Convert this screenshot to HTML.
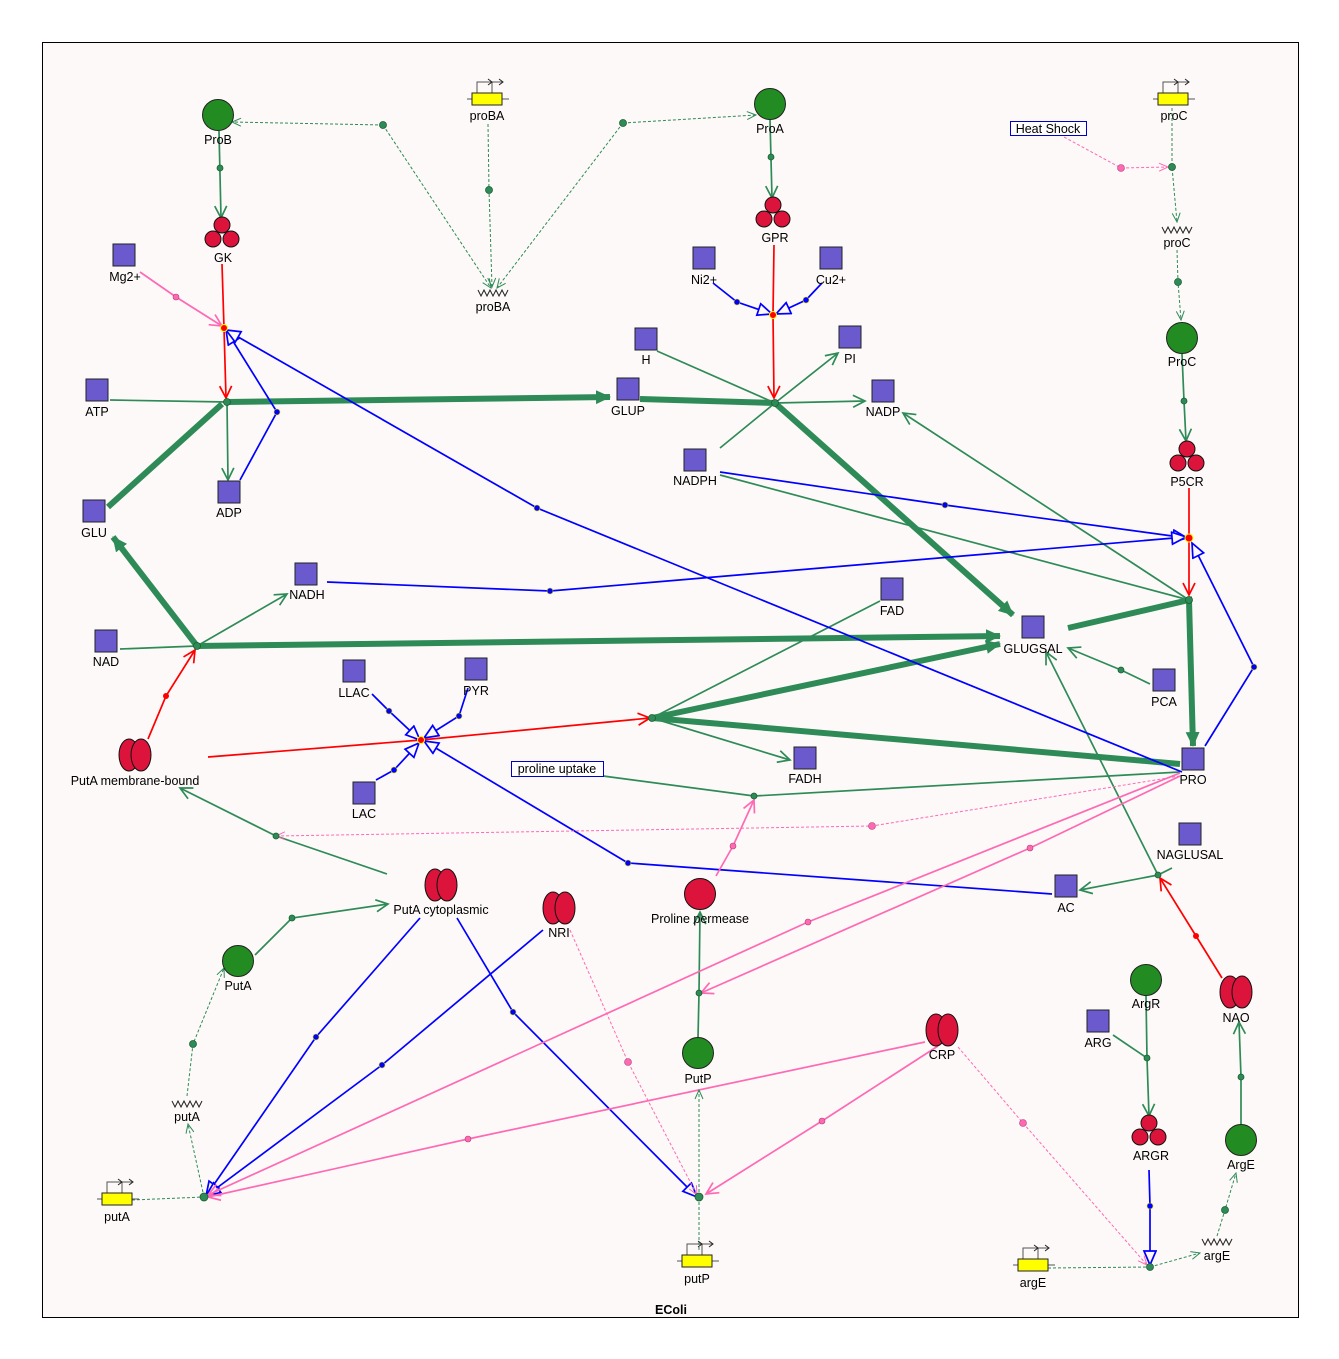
<!DOCTYPE html>
<html><head><meta charset="utf-8"><style>
body{margin:0;background:#fff}
svg{display:block}
text{font-family:"Liberation Sans",sans-serif;font-size:12.5px;text-anchor:middle;fill:#000}
.sq{fill:#6a5acd;stroke:#222;stroke-width:1}
.gc{fill:#228b22;stroke:#222;stroke-width:1}
.rc{fill:#dc143c;stroke:#111;stroke-width:1}
.tg{stroke:#2e8b57;stroke-width:6;fill:none}
.g{stroke:#2e8b57;stroke-width:1.7;fill:none}
.r{stroke:#ff0000;stroke-width:1.7;fill:none}
.b{stroke:#0000ff;stroke-width:1.7;fill:none}
.p{stroke:#ff69b4;stroke-width:1.7;fill:none}
.pd{stroke:#ff69b4;stroke-width:1;fill:none;stroke-dasharray:3,2}
.gd{stroke:#2e8b57;stroke-width:1;fill:none;stroke-dasharray:3,2}
</style></head><body>
<svg width="1339" height="1359" viewBox="0 0 1339 1359" xmlns="http://www.w3.org/2000/svg">
<defs>
<marker id="ag" markerUnits="userSpaceOnUse" markerWidth="16" markerHeight="16" refX="13" refY="7" orient="auto"><path d="M1,1 L13,7 L1,13" fill="none" stroke="#2e8b57" stroke-width="1.7"/></marker>
<marker id="atg" markerUnits="userSpaceOnUse" markerWidth="18" markerHeight="18" refX="14" refY="8" orient="auto"><path d="M0,1 L15,8 L0,15 z" fill="#2e8b57"/></marker>
<marker id="ar" markerUnits="userSpaceOnUse" markerWidth="16" markerHeight="16" refX="13" refY="7" orient="auto"><path d="M1,1 L13,7 L1,13" fill="none" stroke="#ff0000" stroke-width="1.7"/></marker>
<marker id="ap" markerUnits="userSpaceOnUse" markerWidth="16" markerHeight="16" refX="13" refY="7" orient="auto"><path d="M1,1 L13,7 L1,13" fill="none" stroke="#ff69b4" stroke-width="1.7"/></marker>
<marker id="apd" markerUnits="userSpaceOnUse" markerWidth="12" markerHeight="12" refX="10" refY="5" orient="auto"><path d="M1,1 L10,5 L1,9" fill="none" stroke="#ff69b4" stroke-width="1"/></marker>
<marker id="agd" markerUnits="userSpaceOnUse" markerWidth="12" markerHeight="12" refX="10" refY="5" orient="auto"><path d="M1,1 L10,5 L1,9" fill="none" stroke="#2e8b57" stroke-width="1"/></marker>
<marker id="ab" markerUnits="userSpaceOnUse" markerWidth="18" markerHeight="18" refX="15" refY="7" orient="auto"><path d="M1,1 L15,7 L1,13 z" fill="#fdf9f8" stroke="#0000ff" stroke-width="1.7"/></marker>
</defs>
<rect x="42.5" y="42.5" width="1256" height="1275" fill="#fdf9f8" stroke="#000" stroke-width="1"/>
<text x="671" y="1314" style="font-weight:bold">EColi</text>

<path class="g" d="M110,400 L227,402"/>
<path class="g" d="M227,402 L228,480" marker-end="url(#ag)"/>
<path class="g" d="M219,131 L221,218" marker-end="url(#ag)"/>
<path class="g" d="M657,351 L775,403 M720,448 L775,403"/>
<path class="g" d="M775,403 L838,353" marker-end="url(#ag)"/>
<path class="g" d="M775,403 L865,401" marker-end="url(#ag)"/>
<path class="g" d="M770,120 L772,198" marker-end="url(#ag)"/>
<path class="g" d="M720,475 L1189,600"/>
<path class="g" d="M1189,600 L903,413" marker-end="url(#ag)"/>
<path class="g" d="M120,649 L197,646"/>
<path class="g" d="M197,646 L287,594" marker-end="url(#ag)"/>
<path class="g" d="M880,601 L652,718"/>
<path class="g" d="M652,718 L790,760" marker-end="url(#ag)"/>
<path class="g" d="M1180,772 L754,796 L603,776"/>
<path class="g" d="M387,874 L276,836 L180,788" marker-end="url(#ag)"/>
<path class="g" d="M255,955 L292,918 L388,904" marker-end="url(#ag)"/>
<path class="g" d="M1150,684 L1121,670 L1068,648" marker-end="url(#ag)"/>
<path class="g" d="M1172,868 L1158,875 L1080,890" marker-end="url(#ag)"/>
<path class="g" d="M1158,875 L1046,652" marker-end="url(#ag)"/>
<path class="g" d="M1182,354 L1184,401 L1186,441" marker-end="url(#ag)"/>
<path class="g" d="M698,1038 L699,993 L700,912" marker-end="url(#ag)"/>
<path class="g" d="M1146,996 L1147,1058 L1149,1116" marker-end="url(#ag)"/>
<path class="g" d="M1113,1035 L1147,1058"/>
<path class="g" d="M1241,1124 L1241,1077 L1239,1022" marker-end="url(#ag)"/>

<path class="tg" d="M227,402 L610,397" marker-end="url(#atg)"/>
<path class="tg" d="M108,507 L222,404"/>
<path class="tg" d="M640,399 L775,403 L1013,615" marker-end="url(#atg)"/>
<path class="tg" d="M197,646 L1000,636" marker-end="url(#atg)"/>
<path class="tg" d="M197,646 L113,537" marker-end="url(#atg)"/>
<path class="tg" d="M1068,628 L1189,600 L1193,746" marker-end="url(#atg)"/>
<path class="tg" d="M1180,764 L652,718 L1000,644" marker-end="url(#atg)"/>

<path class="r" d="M222,264 L224,328 L226,398" marker-end="url(#ar)"/>
<path class="r" d="M774,245 L773,315 L774,398" marker-end="url(#ar)"/>
<path class="r" d="M1189,488 L1189,538 L1189,595" marker-end="url(#ar)"/>
<path class="r" d="M148,739 L166,696 L195,650" marker-end="url(#ar)"/>
<path class="r" d="M208,757 L421,740 L650,718" marker-end="url(#ar)"/>
<path class="r" d="M1222,978 L1196,936 L1160,878" marker-end="url(#ar)"/>

<path class="b" d="M240,480 L277,412 L226,330" marker-end="url(#ab)"/>
<path class="b" d="M1182,772 L537,508 L226,330" marker-end="url(#ab)"/>
<path class="b" d="M713,283 L737,302 L772,314" marker-end="url(#ab)"/>
<path class="b" d="M822,283 L806,300 L776,314" marker-end="url(#ab)"/>
<path class="b" d="M720,472 L945,505 L1187,538" marker-end="url(#ab)"/>
<path class="b" d="M327,582 L550,591 L1186,537" marker-end="url(#ab)"/>
<path class="b" d="M1205,746 L1254,667 L1192,543" marker-end="url(#ab)"/>
<path class="b" d="M372,694 L389,711 L420,740" marker-end="url(#ab)"/>
<path class="b" d="M468,688 L459,716 L424,738" marker-end="url(#ab)"/>
<path class="b" d="M376,780 L394,770 L419,743" marker-end="url(#ab)"/>
<path class="b" d="M1052,894 L628,863 L424,741" marker-end="url(#ab)"/>
<path class="b" d="M420,918 L316,1037 L206,1196" marker-end="url(#ab)"/>
<path class="b" d="M543,930 L382,1065 L206,1196" marker-end="url(#ab)"/>
<path class="b" d="M457,918 L513,1012 L697,1197" marker-end="url(#ab)"/>
<path class="b" d="M1149,1170 L1150,1206 L1150,1265" marker-end="url(#ab)"/>

<path class="p" d="M140,272 L176,297 L222,326" marker-end="url(#ap)"/>
<path class="p" d="M716,876 L733,846 L754,800" marker-end="url(#ap)"/>
<path class="p" d="M1180,773 L808,922 L208,1195" marker-end="url(#ap)"/>
<path class="p" d="M1180,776 L1030,848 L701,993" marker-end="url(#ap)"/>
<path class="p" d="M925,1042 L468,1139 L208,1197" marker-end="url(#ap)"/>
<path class="p" d="M938,1046 L822,1121 L706,1194" marker-end="url(#ap)"/>
<path class="pd" d="M1064,137 L1121,168 L1168,167" marker-end="url(#apd)"/>
<path class="pd" d="M1180,776 L872,826 L276,836" marker-end="url(#apd)"/>
<path class="pd" d="M570,930 L628,1062 L697,1195" marker-end="url(#apd)"/>
<path class="pd" d="M958,1047 L1023,1123 L1147,1265" marker-end="url(#apd)"/>

<path class="gd" d="M383,125 L232,122" marker-end="url(#agd)"/>
<path class="gd" d="M383,125 L491,288" marker-end="url(#agd)"/>
<path class="gd" d="M623,123 L756,115" marker-end="url(#agd)"/>
<path class="gd" d="M623,123 L497,288" marker-end="url(#agd)"/>
<path class="gd" d="M488,124 L489,190 L492,287" marker-end="url(#agd)"/>
<path class="gd" d="M1172,108 L1172,167 L1177,222" marker-end="url(#agd)"/>
<path class="gd" d="M1177,250 L1178,282 L1181,320" marker-end="url(#agd)"/>
<path class="gd" d="M132,1200 L204,1197"/>
<path class="gd" d="M204,1197 L188,1124" marker-end="url(#agd)"/>
<path class="gd" d="M187,1096 L193,1044 L224,968" marker-end="url(#agd)"/>
<path class="gd" d="M699,1197 L699,1090" marker-end="url(#agd)"/>
<path class="gd" d="M699,1197 L699,1250"/>
<path class="gd" d="M1048,1268 L1150,1267"/>
<path class="gd" d="M1150,1267 L1200,1253" marker-end="url(#agd)"/>
<path class="gd" d="M1217,1236 L1225,1210 L1236,1173" marker-end="url(#agd)"/>

<g stroke="#1a5e30" stroke-width="0.8" fill="#2e8b57">
<circle cx="383" cy="125" r="3.5"/><circle cx="623" cy="123" r="3.5"/><circle cx="489" cy="190" r="3.5"/>
<circle cx="1172" cy="167" r="3.5"/><circle cx="1178" cy="282" r="3.5"/><circle cx="204" cy="1197" r="4"/>
<circle cx="193" cy="1044" r="3.5"/><circle cx="699" cy="1197" r="4"/><circle cx="1150" cy="1267" r="3.5"/>
<circle cx="1225" cy="1210" r="3.5"/><circle cx="754" cy="796" r="3"/><circle cx="276" cy="836" r="3"/>
<circle cx="292" cy="918" r="3"/><circle cx="1121" cy="670" r="3"/><circle cx="1158" cy="875" r="3"/>
<circle cx="220" cy="168" r="3"/><circle cx="771" cy="157" r="3"/><circle cx="1184" cy="401" r="3"/>
<circle cx="699" cy="993" r="3"/><circle cx="1147" cy="1058" r="3"/><circle cx="1241" cy="1077" r="3"/>
<circle cx="227" cy="402" r="3.5"/><circle cx="775" cy="403" r="3.5"/><circle cx="197" cy="646" r="3.5"/>
<circle cx="652" cy="718" r="3.5"/><circle cx="1189" cy="600" r="3.5"/>
</g>
<g stroke="#ffff00" stroke-width="1" fill="#ff0000">
<circle cx="224" cy="328" r="3.5"/><circle cx="773" cy="315" r="3.5"/><circle cx="1189" cy="538" r="4"/><circle cx="421" cy="740" r="3.5"/>
</g>
<g fill="#ff0000"><circle cx="166" cy="696" r="3"/><circle cx="1196" cy="936" r="3"/></g>
<g fill="#0000ff" stroke="#cccc00" stroke-width="0.6">
<circle cx="277" cy="412" r="3"/><circle cx="537" cy="508" r="3"/><circle cx="737" cy="302" r="3"/><circle cx="806" cy="300" r="3"/>
<circle cx="945" cy="505" r="3"/><circle cx="550" cy="591" r="3"/><circle cx="1254" cy="667" r="3"/><circle cx="389" cy="711" r="3"/>
<circle cx="459" cy="716" r="3"/><circle cx="394" cy="770" r="3"/><circle cx="628" cy="863" r="3"/><circle cx="316" cy="1037" r="3"/>
<circle cx="382" cy="1065" r="3"/><circle cx="513" cy="1012" r="3"/><circle cx="1150" cy="1206" r="3"/>
</g>
<g fill="#ff69b4" stroke="#b04070" stroke-width="0.6">
<circle cx="176" cy="297" r="3"/><circle cx="733" cy="846" r="3"/><circle cx="808" cy="922" r="3"/><circle cx="1030" cy="848" r="3"/>
<circle cx="468" cy="1139" r="3"/><circle cx="822" cy="1121" r="3"/><circle cx="1121" cy="168" r="3.5"/><circle cx="872" cy="826" r="3.5"/>
<circle cx="628" cy="1062" r="3.5"/><circle cx="1023" cy="1123" r="3.5"/>
</g>

<g class="sq">
<rect x="113" y="244" width="22" height="22"/><rect x="86" y="379" width="22" height="22"/><rect x="218" y="481" width="22" height="22"/>
<rect x="83" y="500" width="22" height="22"/><rect x="295" y="563" width="22" height="22"/><rect x="95" y="630" width="22" height="22"/>
<rect x="343" y="660" width="22" height="22"/><rect x="465" y="658" width="22" height="22"/><rect x="353" y="782" width="22" height="22"/>
<rect x="617" y="378" width="22" height="22"/><rect x="635" y="328" width="22" height="22"/><rect x="684" y="449" width="22" height="22"/>
<rect x="693" y="247" width="22" height="22"/><rect x="820" y="247" width="22" height="22"/><rect x="839" y="326" width="22" height="22"/>
<rect x="872" y="380" width="22" height="22"/><rect x="881" y="578" width="22" height="22"/><rect x="1022" y="616" width="22" height="22"/>
<rect x="1153" y="669" width="22" height="22"/><rect x="794" y="747" width="22" height="22"/><rect x="1182" y="748" width="22" height="22"/>
<rect x="1179" y="823" width="22" height="22"/><rect x="1055" y="875" width="22" height="22"/><rect x="1087" y="1010" width="22" height="22"/>
</g>
<g class="gc">
<circle cx="218" cy="115" r="15.5"/><circle cx="770" cy="104" r="15.5"/><circle cx="1182" cy="338" r="15.5"/>
<circle cx="238" cy="961" r="15.5"/><circle cx="698" cy="1053" r="15.5"/><circle cx="1146" cy="980" r="15.5"/><circle cx="1241" cy="1140" r="15.5"/>
</g>
<circle class="rc" cx="700" cy="894" r="15.5"/>
<g class="rc">
<circle cx="222" cy="225" r="8"/><circle cx="213" cy="239" r="8"/><circle cx="231" cy="239" r="8"/>
<circle cx="773" cy="205" r="8"/><circle cx="764" cy="219" r="8"/><circle cx="782" cy="219" r="8"/>
<circle cx="1187" cy="449" r="8"/><circle cx="1178" cy="463" r="8"/><circle cx="1196" cy="463" r="8"/>
<circle cx="1149" cy="1123" r="8"/><circle cx="1140" cy="1137" r="8"/><circle cx="1158" cy="1137" r="8"/>
</g>
<g class="rc">
<ellipse cx="129" cy="755" rx="10" ry="16"/><ellipse cx="141" cy="755" rx="10" ry="16"/>
<ellipse cx="435" cy="885" rx="10" ry="16"/><ellipse cx="447" cy="885" rx="10" ry="16"/>
<ellipse cx="553" cy="908" rx="10" ry="16"/><ellipse cx="565" cy="908" rx="10" ry="16"/>
<ellipse cx="936" cy="1030" rx="10" ry="16"/><ellipse cx="948" cy="1030" rx="10" ry="16"/>
<ellipse cx="1230" cy="992" rx="10" ry="16"/><ellipse cx="1242" cy="992" rx="10" ry="16"/>
</g>
<g id="gene" stroke="#222" stroke-width="1" fill="none">
<path d="M467,99 H509 M477,93 V82 H492 M492,93 V82 H503" stroke="#555"/>
<path d="M488,79 L492,82 L488,85 M499,79 L503,82 L499,85"/>
<rect x="472" y="93" width="30" height="12" fill="#ffff00"/>
</g>
<use href="#gene" x="686" y="0"/>
<use href="#gene" x="-370" y="1100"/>
<use href="#gene" x="210" y="1162"/>
<use href="#gene" x="546" y="1166"/>
<g fill="none" stroke="#222" stroke-width="1">
<path d="M478,290 l3,6 l3,-6 l3,6 l3,-6 l3,6 l3,-6 l3,6 l3,-6 l3,6 l3,-6"/>
<path d="M1162,227 l3,6 l3,-6 l3,6 l3,-6 l3,6 l3,-6 l3,6 l3,-6 l3,6 l3,-6"/>
<path d="M172,1101 l3,6 l3,-6 l3,6 l3,-6 l3,6 l3,-6 l3,6 l3,-6 l3,6 l3,-6"/>
<path d="M1202,1239 l3,6 l3,-6 l3,6 l3,-6 l3,6 l3,-6 l3,6 l3,-6 l3,6 l3,-6"/>
</g>
<rect x="1010.5" y="121.5" width="76" height="14" fill="#fff" stroke="#0000cc"/>
<text x="1048" y="133">Heat Shock</text>
<rect x="511.5" y="761.5" width="92" height="15" fill="#fff" stroke="#0000cc"/>
<text x="557" y="773">proline uptake</text>

<g>
<text x="125" y="281">Mg2+</text><text x="97" y="416">ATP</text><text x="229" y="517">ADP</text><text x="94" y="537">GLU</text>
<text x="307" y="599">NADH</text><text x="106" y="666">NAD</text><text x="354" y="697">LLAC</text><text x="476" y="695">PYR</text>
<text x="364" y="818">LAC</text><text x="628" y="415">GLUP</text><text x="646" y="364">H</text><text x="695" y="485">NADPH</text>
<text x="704" y="284">Ni2+</text><text x="831" y="284">Cu2+</text><text x="850" y="363">PI</text><text x="883" y="416">NADP</text>
<text x="892" y="615">FAD</text><text x="1033" y="653">GLUGSAL</text><text x="1164" y="706">PCA</text><text x="805" y="783">FADH</text>
<text x="1193" y="784">PRO</text><text x="1190" y="859">NAGLUSAL</text><text x="1066" y="912">AC</text><text x="1098" y="1047">ARG</text>
<text x="218" y="144">ProB</text><text x="770" y="133">ProA</text><text x="1182" y="366">ProC</text><text x="238" y="990">PutA</text>
<text x="698" y="1083">PutP</text><text x="1146" y="1008">ArgR</text><text x="1241" y="1169">ArgE</text><text x="700" y="923">Proline permease</text>
<text x="223" y="262">GK</text><text x="775" y="242">GPR</text><text x="1187" y="486">P5CR</text><text x="1151" y="1160">ARGR</text>
<text x="135" y="785">PutA membrane-bound</text><text x="441" y="914">PutA cytoplasmic</text><text x="559" y="937">NRI</text>
<text x="942" y="1059">CRP</text><text x="1236" y="1022">NAO</text>
<text x="487" y="120">proBA</text><text x="1174" y="120">proC</text><text x="117" y="1221">putA</text><text x="697" y="1283">putP</text><text x="1033" y="1287">argE</text>
<text x="493" y="311">proBA</text><text x="1177" y="247">proC</text><text x="187" y="1121">putA</text><text x="1217" y="1260">argE</text>
</g>
</svg>
</body></html>
